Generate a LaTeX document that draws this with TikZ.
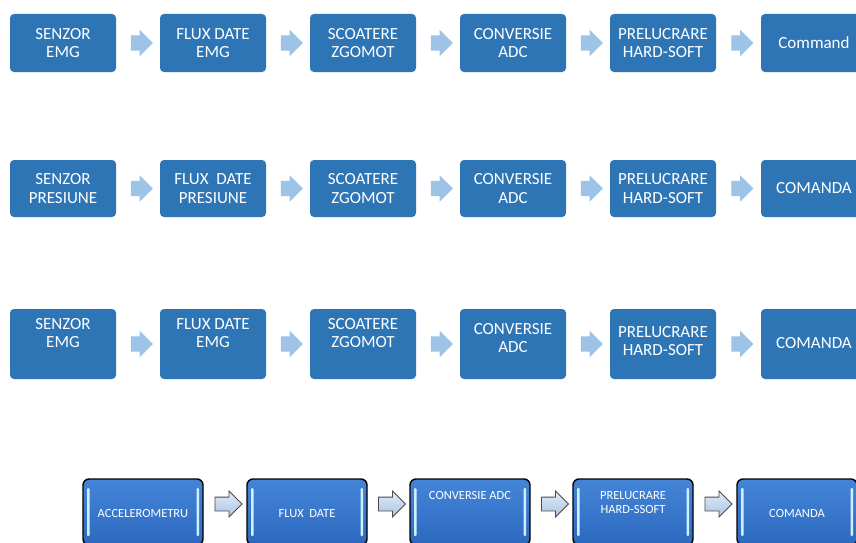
\documentclass[tikz,border=0pt]{standalone}
\usepackage{fontspec}
\setmainfont{Carlito}
\usetikzlibrary{shapes.arrows,calc}
\definecolor{boxblue}{HTML}{2E75B6}
\definecolor{arrblue}{HTML}{9DC3E6}
\definecolor{glossTop}{HTML}{4585D8}
\definecolor{glossBot}{HTML}{2B69BE}
\definecolor{glossBar}{HTML}{CFEFFF}
\definecolor{arrTop}{HTML}{E2ECF8}
\definecolor{arrBot}{HTML}{A9C3E3}
\tikzset{
  flat/.style={rectangle, rounded corners=4pt, fill=boxblue, text=white,
    minimum width=106pt, align=center, inner sep=0pt,
    font=\fontsize{17}{18.5}\selectfont},
  blk/.style={single arrow, fill=arrblue, draw=none, minimum height=22pt,
    minimum width=26pt, single arrow head extend=5.5pt, inner sep=0pt,
    text height=15pt, text depth=0pt, text width=0pt},
  gloss/.style={rectangle, rounded corners=6pt, draw=black, line width=1.4pt,
    top color=glossTop, bottom color=glossBot, minimum width=120pt,
    minimum height=66pt, inner sep=0pt,
    path picture={
      \fill[glossBar, rounded corners=1pt] ([xshift=4pt,yshift=-9pt]path picture bounding box.north west) rectangle ++(2.5pt,-48pt);
      \fill[glossBar, rounded corners=1pt] ([xshift=-6.5pt,yshift=-9pt]path picture bounding box.north east) rectangle ++(2.5pt,-48pt);
    }},
  glbl/.style={text=white, align=center, font=\fontsize{12.5}{14}\selectfont},
  lbl/.style={text=white, align=center, font=\fontsize{17}{18.5}\selectfont},
  garr/.style={single arrow, draw=black!70, line width=0.9pt, top color=arrTop,
    bottom color=arrBot, minimum height=27pt, minimum width=25pt,
    single arrow head extend=6pt, inner sep=0pt, text height=13pt, text depth=0pt,
    text width=0pt}
}
\begin{document}
\begin{tikzpicture}[x=1pt,y=-1pt]
\useasboundingbox (0,0) rectangle (856,543);
\clip (0,0) rectangle (856,543);
\fill[white] (0,0) rectangle (856,543);
% ---- row 1
\node[flat, minimum height=58pt] (a1) at (63,43) {SENZOR\\EMG};
\node[flat, minimum height=58pt] (a2) at (213,43) {FLUX DATE\\EMG};
\node[flat, minimum height=58pt] (a3) at (363,43) {SCOATERE\\ZGOMOT};
\node[flat, minimum height=58pt] (a4) at (513,43) {CONVERSIE\\ADC};
\node[flat, minimum height=58pt] (a5) at (663,43) {PRELUCRARE\\HARD-SOFT};
\node[flat, minimum height=58pt] (a6) at (814,43) {Command};
\foreach \p/\q in {a1/a2,a2/a3,a3/a4,a4/a5,a5/a6}
  \node[blk] (ar\p) at ($(\p.east)!0.5!(\q.west)$) {};
% ---- row 2
\node[flat, minimum height=57pt] (b1) at (63,188.5) {SENZOR\\PRESIUNE};
\node[flat, minimum height=57pt] (b2) at (213,188.5) {FLUX\ \ DATE\\PRESIUNE};
\node[flat, minimum height=57pt] (b3) at (363,188.5) {SCOATERE\\ZGOMOT};
\node[flat, minimum height=57pt] (b4) at (513,188.5) {CONVERSIE\\ADC};
\node[flat, minimum height=57pt] (b5) at (663,188.5) {PRELUCRARE\\HARD-SOFT};
\node[flat, minimum height=57pt] (b6) at (814,188.5) {COMANDA};
\foreach \p/\q in {b1/b2,b2/b3,b3/b4,b4/b5,b5/b6}
  \node[blk] (ar\p) at ($(\p.east)!0.5!(\q.west)$) {};
% ---- row 3
\node[flat, minimum height=70pt, label={[lbl, name=t1, yshift=11pt]center:SENZOR\\EMG}] (c1) at (63,344) {};
\node[flat, minimum height=70pt, label={[lbl, name=t2, yshift=11pt]center:FLUX DATE\\EMG}] (c2) at (213,344) {};
\node[flat, minimum height=70pt, label={[lbl, name=t3, yshift=11pt]center:SCOATERE\\ZGOMOT}] (c3) at (363,344) {};
\node[flat, minimum height=70pt, label={[lbl, name=t4, yshift=6pt]center:CONVERSIE\\ADC}] (c4) at (513,344) {};
\node[flat, minimum height=70pt, label={[lbl, name=t5, yshift=3pt]center:PRELUCRARE\\HARD-SOFT}] (c5) at (663,344) {};
\node[flat, minimum height=70pt, label={[lbl, name=t6, yshift=1pt]center:COMANDA}] (c6) at (814,344) {};
\foreach \p/\q in {c1/c2,c2/c3,c3/c4,c4/c5,c5/c6}
  \node[blk] (ar\p) at ($(\p.east)!0.5!(\q.west)$) {};
% ---- row 4
\node[gloss, label={[glbl, name=u1, yshift=-1.5pt]center:ACCELEROMETRU}] (d1) at (143,512) {};
\node[gloss, label={[glbl, name=u2, yshift=-1.5pt]center:FLUX\ \ DATE}] (d2) at (307,512) {};
\node[gloss, label={[glbl, name=u3, yshift=16.5pt]center:CONVERSIE ADC}] (d3) at (470,512) {};
\node[gloss, label={[glbl, name=u4, yshift=9.5pt]center:PRELUCRARE\\HARD-SSOFT}] (d4) at (633,512) {};
\node[gloss, label={[glbl, name=u5, yshift=-1.5pt]center:COMANDA}] (d5) at (797,512) {};
\foreach \p/\q in {d1/d2,d2/d3,d3/d4,d4/d5}
  \node[garr] (ar\p) at ($($(\p.east)!0.5!(\q.west)$)+(0,-8)$) {};
\end{tikzpicture}
\end{document}
